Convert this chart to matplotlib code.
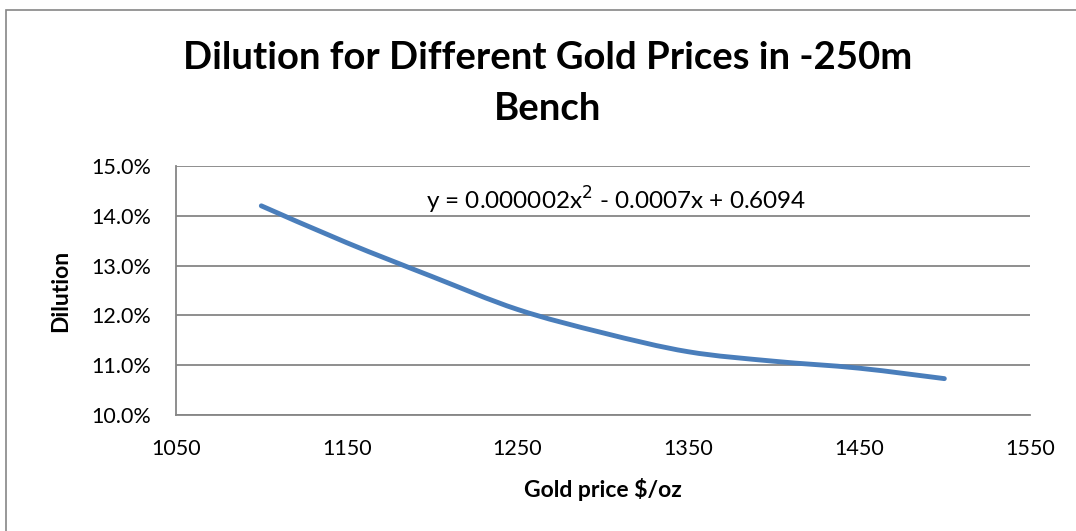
import numpy as np
import matplotlib.pyplot as plt
from matplotlib.path import Path
from matplotlib.patches import PathPatch, Rectangle

plt.rcParams['font.family'] = ['Lato', 'DejaVu Sans']

# data
gold_price = [1100, 1150, 1200, 1250, 1300, 1350, 1400, 1450, 1500]
dilution = [14.20, 13.46, 12.78, 12.12, 11.65, 11.27, 11.08, 10.94, 10.73]
x_ticks = [1050, 1150, 1250, 1350, 1450, 1550]
y_ticks = [10, 11, 12, 13, 14, 15]
title_lines = ['Dilution for Different Gold Prices in -250m', 'Bench']
equation = 'y = 0.000002x$^2$ - 0.0007x + 0.6094'


def smooth_path(x, y):
    # Excel style smoothed line: cubic bezier with catmull-rom tangents
    x = np.asarray(x, float)
    y = np.asarray(y, float)
    verts = [(x[0], y[0])]
    codes = [Path.MOVETO]
    n = len(x)
    for i in range(n - 1):
        p0 = (x[max(i - 1, 0)], y[max(i - 1, 0)])
        p1 = (x[i], y[i])
        p2 = (x[i + 1], y[i + 1])
        p3 = (x[min(i + 2, n - 1)], y[min(i + 2, n - 1)])
        c1 = (p1[0] + (p2[0] - p0[0]) / 6, p1[1] + (p2[1] - p0[1]) / 6)
        c2 = (p2[0] - (p3[0] - p1[0]) / 6, p2[1] - (p3[1] - p1[1]) / 6)
        verts += [c1, c2, p2]
        codes += [Path.CURVE4] * 3
    return Path(verts, codes)


fig = plt.figure(figsize=(10.76, 5.31), dpi=100)
ax = fig.add_axes([0.1635, 0.2185, 0.7935, 0.4689])

# outer chart border
fig.patches.append(Rectangle((6 / 1076, -0.1), 1.2, 1 - 10 / 531 + 0.1,
                             transform=fig.transFigure, fill=False,
                             edgecolor='#868686', linewidth=1.2))

ax.add_patch(PathPatch(smooth_path(gold_price, dilution), fill=False,
                       edgecolor='#4a7ebb', linewidth=3.5, capstyle='round'))

ax.set_xlim(1050, 1550)
ax.set_ylim(10, 15)
ax.set_xticks(x_ticks)
ax.set_yticks(y_ticks)
ax.set_yticklabels(['%.1f%%' % v for v in y_ticks], fontsize=15.5)
ax.set_xticklabels([str(v) for v in x_ticks], fontsize=15.5)
ax.tick_params(axis='y', length=0, pad=18)
ax.tick_params(axis='x', length=0, pad=17)
ax.grid(axis='y', color='#868686', linewidth=1.3)
ax.set_axisbelow(True)
for s in ['top', 'right']:
    ax.spines[s].set_visible(False)
for s in ['left', 'bottom']:
    ax.spines[s].set_color('#868686')
    ax.spines[s].set_linewidth(1.3)

ax.set_xlabel('Gold price $/oz', fontsize=16.5, fontweight='bold', labelpad=14)
ax.set_ylabel('Dilution', fontsize=16.5, fontweight='bold', labelpad=14)

fig.text(548 / 1076, 1 - 58 / 531, title_lines[0], ha='center', va='center',
         fontsize=27.5, fontweight='bold')
fig.text(548 / 1076, 1 - 109 / 531, title_lines[1], ha='center', va='center',
         fontsize=27.5, fontweight='bold')
ax.text(1308, 14.3, equation, ha='center', va='center', fontsize=17.5)

fig.savefig('out.png', dpi=100)
